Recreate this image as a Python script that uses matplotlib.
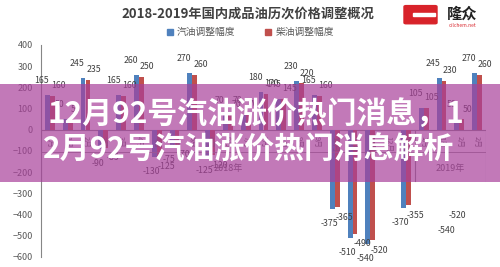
import matplotlib
matplotlib.use('Agg')
import matplotlib.pyplot as plt
import numpy as np
from matplotlib.patches import Rectangle, FancyBboxPatch

plt.rcParams['font.family'] = ['Noto Sans CJK SC', 'DejaVu Sans']

#---datos (yuan/tonelada)
meses = ['1月', '1月', '2月', '3月', '3月', '4月', '4月', '5月', '5月', '6月', '6月',
         '7月', '7月', '8月', '9月', '9月', '10月', '11月', '11月', '12月', '12月',
         '1月', '1月', '2月', '2月']
anios = ['2018年', '2019年']
anios_n = [21, 4]
gasolina = [165, 50, 245, -90, 165, 260, -130, -75, 270, -125, 70, 70, 180, 145, 230, 165,
            -375, -510, -540, 0, -370, 105, 245, 50, 270]
diesel = [160, 50, 235, -85, 160, 250, -125, -70, 260, -120, 70, 70, 170, 145, 220, 160,
          -365, -490, -520, 0, -355, 105, 230, 50, 260]
nombres = ['汽油调整幅度', '柴油调整幅度']
titulo = '2018-2019年国内成品油历次价格调整概况'
banner = ['12月92号汽油涨价热门消息，1', '2月92号汽油涨价热门消息解析']

azul = '#4f81bd'
rojo = '#c0504d'
gris = '#595959'

fig = plt.figure(figsize=(5, 2.67), dpi=100)
ax = fig.add_axes([0.082, 0.0375, 0.89, 0.794])

x = np.arange(len(gasolina))
w = 0.28
ax.bar(x - w/2, gasolina, w, color=azul, zorder=2)
ax.bar(x + w/2, diesel, w, color=rojo, zorder=2)

# etiquetas de datos
for i in range(len(x)):
	for v, dx, up, dn in ((gasolina[i], -w/2, (-4, 7), (-2, -7)), (diesel[i], w/2, (4, 4), (5, -4))):
		if v == 0:
			continue
		off = up if v > 0 else dn
		ax.annotate(str(v), (x[i] + dx, v), xytext=off, textcoords='offset points',
		            ha='center', va='bottom' if v > 0 else 'top', fontsize=6.3, color='#404040', zorder=3)
# etiquetas sueltas
ax.text(22.3, -476, '-540', fontsize=6.3, color='#404040', ha='center', va='center')
ax.text(22.9, -406, '-520', fontsize=6.3, color='#404040', ha='center', va='center')

ax.set_xlim(-0.5, len(x) - 0.5)
ax.set_ylim(-600, 400)
ax.set_yticks(np.arange(-600, 401, 100))
ax.tick_params(axis='y', length=0, labelsize=6.5, labelcolor=gris, pad=6)
ax.set_xticks([])
for s in ['top', 'right', 'bottom']:
	ax.spines[s].set_visible(False)
ax.spines['left'].set_color('#868686')
ax.spines['left'].set_linewidth(0.8)
ax.axhline(0, color='#868686', lw=0.8, zorder=1)

# eje de categorias de dos niveles
for i, m in enumerate(meses):
	ax.text(i, -30, m, rotation=-90, ha='center', va='top', fontsize=5.5, color=gris)
inicio = 0
for a, n in zip(anios, anios_n):
	ax.text(inicio + n/2 - 0.5, -184, a, ha='center', va='center', fontsize=6.5, color=gris)
	ax.plot([inicio - 0.5, inicio - 0.5], [0, -240], color='#868686', lw=0.8)
	inicio += n
ax.plot([inicio - 0.5, inicio - 0.5], [0, -240], color='#868686', lw=0.8)
ax.plot([-0.5, inicio - 0.5], [-105, -105], color='#868686', lw=0.6)

# titulo y leyenda
fig.text(0.496, 0.948, titulo, ha='center', va='center', fontsize=9.5, fontweight='bold', color='#404040')
h = [plt.Line2D([], [], marker='s', ls='', color=c, markersize=4) for c in (azul, rojo)]
fig.legend(h, nombres, loc='center', bbox_to_anchor=(0.5, 0.88), ncol=2, frameon=False,
           fontsize=7, handlelength=0.8, handletextpad=0.3, columnspacing=3.0, labelcolor=gris)

# logo
fig.add_artist(FancyBboxPatch((0.812, 0.915), 0.058, 0.06, boxstyle='round,pad=0.004',
                              transform=fig.transFigure, color='#d8232a', zorder=4))
fig.add_artist(Rectangle((0.825, 0.94), 0.045, 0.012, transform=fig.transFigure, color='white', zorder=5))
fig.text(0.925, 0.95, '隆众', ha='center', va='center', fontsize=11, fontweight='bold', color='#222222', zorder=5)
fig.text(0.925, 0.905, 'oilchem.net', ha='center', va='center', fontsize=3.5, color='#d8232a', zorder=5)

# banda superpuesta
fig.add_artist(Rectangle((0, 0.318), 1, 0.367, transform=fig.transFigure,
                         color='#a8409a', alpha=0.7, lw=0, zorder=8))
fig.text(0.094, 0.573, banner[0], ha='left', va='center', fontsize=21.5, fontweight='bold', color='white', zorder=9)
fig.text(0.086, 0.438, banner[1], ha='left', va='center', fontsize=21.5, fontweight='bold', color='white', zorder=9)

fig.savefig('out.png', dpi=100)
